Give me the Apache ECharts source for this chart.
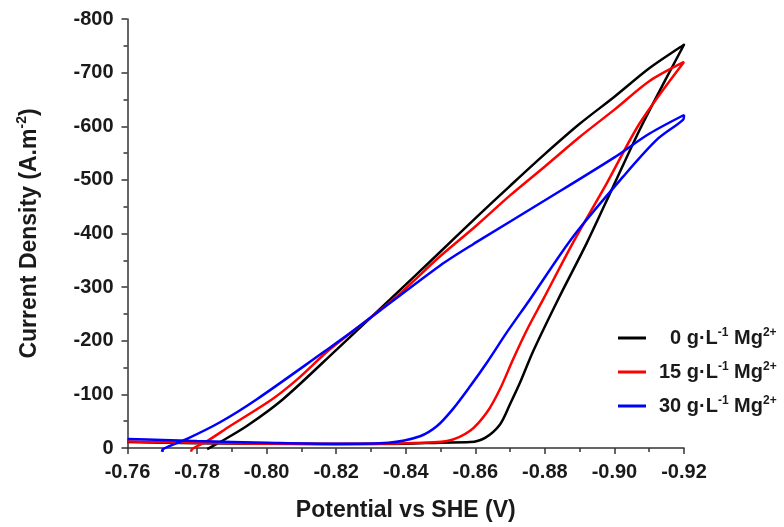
<!DOCTYPE html>
<html>
<head>
<meta charset="utf-8">
<script src="https://cdn.jsdelivr.net/npm/echarts@6/dist/echarts.min.js"></script>
<style>
  html, body { margin: 0; padding: 0; background: #fff; }
</style>
</head>
<body>
<!-- chart container -->
<div id="main" style="width: 784px;height:527px"></div>
<script>
  // Mg2+ concentration of each scan (g/L)
  var concs = ['0', '15', '30'];

  // 0 g/L scan: potential (V) and current density (A.m-2)
  var pot0 = [-0.760, -0.780, -0.800, -0.820, -0.840, -0.850, -0.8585, -0.8628, -0.8671, -0.8700,
    -0.8728, -0.8766, -0.8838, -0.8921, -0.8996, -0.9073, -0.9151, -0.9200, -0.9102, -0.9000,
    -0.8901, -0.8798, -0.8697, -0.8596, -0.8498, -0.8355, -0.8202, -0.8047, -0.7943, -0.7866, -0.7829];
  var cur0 = [-11, -9, -8, -7, -8, -10, -11, -19, -44, -82,
    -121, -180, -277, -383, -487, -594, -692, -752, -709, -655,
    -605, -547, -487, -426, -365, -277, -184, -91, -41, -11, 2];

  // 15 g/L scan
  var pot15 = [-0.760, -0.780, -0.800, -0.820, -0.840, -0.8519, -0.8585, -0.8634, -0.8671, -0.8709,
    -0.8749, -0.8795, -0.8881, -0.8979, -0.9074, -0.9200, -0.9100, -0.9000, -0.8900, -0.8800,
    -0.8700, -0.8600, -0.8498, -0.8364, -0.8182, -0.8088, -0.8016, -0.7895, -0.7829, -0.7786, -0.7783];
  var cur15 = [-12, -10, -8, -8, -9, -13, -32, -67, -110, -166,
    -221, -277, -383, -495, -607, -720, -684, -631, -580, -525,
    -471, -413, -357, -277, -184, -128, -91, -41, -13, 2, 7];

  // 30 g/L scan
  var pot30 = [-0.760, -0.770, -0.780, -0.800, -0.820, -0.835, -0.8441, -0.8490, -0.8536, -0.8585,
    -0.8634, -0.8691, -0.8757, -0.8881, -0.9025, -0.9122, -0.9197, -0.9200, -0.9100, -0.9000,
    -0.8798, -0.8596, -0.8498, -0.8248, -0.8162, -0.7972, -0.7866, -0.7771, -0.7702, -0.7699];
  var cur30 = [-17, -15, -13, -10, -8, -10, -22, -41, -73, -115,
    -160, -216, -277, -394, -506, -575, -612, -621, -586, -542,
    -461, -381, -340, -218, -178, -91, -48, -17, 2, 7];

  var colors = ['#000000', '#ff0000', '#0000ff'];
  var pots = [pot0, pot15, pot30];
  var curs = [cur0, cur15, cur30];

  var font = "'Liberation Sans', Arial, sans-serif";
  var ink = '#1a1a1a';

  var names = concs.map(function (c) { return c + ' g·L-1 Mg2+'; });

  var series = names.map(function (name, i) {
    return {
      name: name,
      type: 'line',
      symbol: 'none',
      clip: false,
      smooth: 0.3,
      color: colors[i],
      lineStyle: { width: 2.5, color: colors[i] },
      data: pots[i].map(function (p, j) { return [p, curs[i][j]]; })
    };
  });

  var myChart = echarts.init(document.getElementById('main'));
  myChart.setOption({
    backgroundColor: '#ffffff',
    animation: false,
    grid: { left: 127.5, right: 100, top: 19, bottom: 78, containLabel: false },
    legend: {
      orient: 'vertical',
      left: 613,
      top: 322,
      icon: 'rect',
      itemWidth: 28,
      itemHeight: 3,
      itemGap: 13,
      data: names,
      formatter: function (name) {
        var i = names.indexOf(name);
        return '{g' + i + '| }{t|' + concs[i] + ' g·L}{s|-1}{t| Mg}{s|2+}';
      },
      textStyle: {
        fontFamily: font,
        rich: {
          g0: { width: 19 },
          g1: { width: 8 },
          g2: { width: 8 },
          t: { fontSize: 20, fontWeight: 'bold', color: ink, fontFamily: font, lineHeight: 22 },
          s: { fontSize: 12, fontWeight: 'bold', color: ink, fontFamily: font, verticalAlign: 'top', lineHeight: 12 }
        }
      }
    },
    // x axis: potential, reversed so -0.76 sits on the left
    xAxis: {
      type: 'value',
      min: -0.92,
      max: -0.76,
      interval: 0.02,
      inverse: true,
      name: 'Potential vs SHE (V)',
      nameLocation: 'middle',
      nameGap: 51,
      nameTextStyle: { fontFamily: font, fontSize: 23, fontWeight: 'bold', color: ink },
      axisLine: { lineStyle: { color: '#333', width: 1.5 } },
      axisTick: { length: 6, lineStyle: { color: '#333', width: 1.5 } },
      minorTick: { show: true, splitNumber: 2, length: 4, lineStyle: { color: '#333', width: 1.5 } },
      splitLine: { show: false },
      axisLabel: {
        margin: 14,
        fontFamily: font, fontSize: 20, fontWeight: 'bold', color: ink,
        formatter: function (v) { return v.toFixed(2); }
      }
    },
    // y axis: current density, negative values upward
    yAxis: {
      type: 'value',
      min: -800,
      max: 0,
      interval: 100,
      inverse: true,
      name: '{t|Current Density (A.m}{s|-2}{t|)}',
      nameLocation: 'middle',
      nameRotate: 90,
      nameGap: 84,
      nameTextStyle: {
        fontFamily: font,
        rich: {
          t: { fontSize: 23, fontWeight: 'bold', color: ink, fontFamily: font, lineHeight: 28 },
          s: { fontSize: 14, fontWeight: 'bold', color: ink, fontFamily: font, verticalAlign: 'top', lineHeight: 14 }
        }
      },
      axisLine: { show: true, lineStyle: { color: '#333', width: 1.5 } },
      axisTick: { show: true, length: 6, lineStyle: { color: '#333', width: 1.5 } },
      minorTick: { show: true, splitNumber: 2, length: 4, lineStyle: { color: '#333', width: 1.5 } },
      splitLine: { show: false },
      axisLabel: {
        margin: 14,
        fontFamily: font, fontSize: 20, fontWeight: 'bold', color: ink
      }
    },
    series: series
  });
</script>
</body>
</html>
